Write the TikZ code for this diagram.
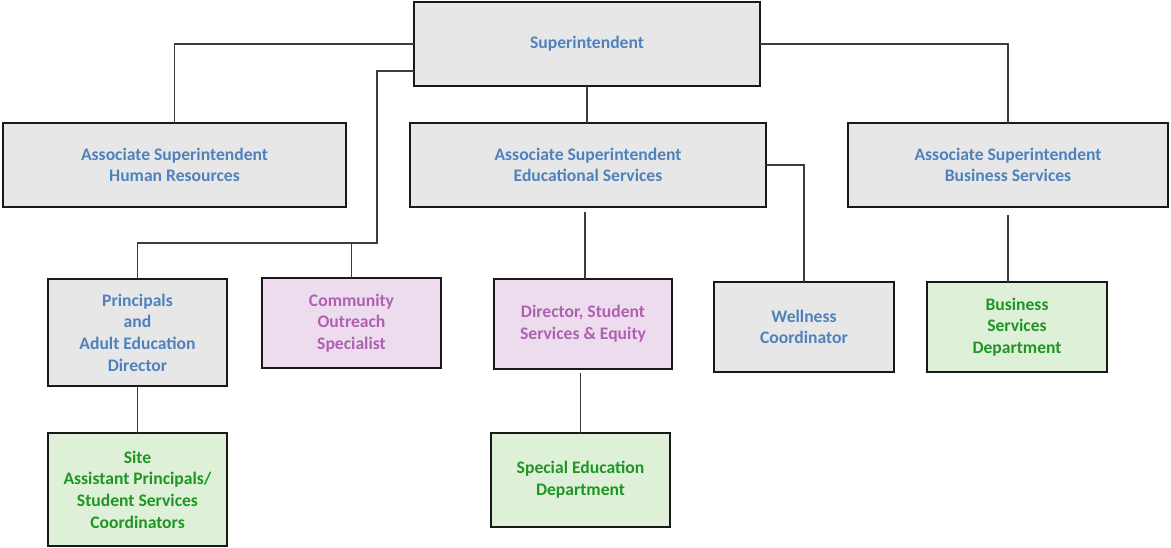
\documentclass[tikz,border=0pt]{standalone}
\usepackage{fontspec}
\setmainfont{Carlito}
\definecolor{txtblue}{RGB}{79,129,189}
\definecolor{txtpurple}{RGB}{176,96,176}
\definecolor{txtgreen}{RGB}{30,150,36}
\definecolor{fillgrey}{RGB}{231,231,231}
\definecolor{fillpink}{RGB}{237,220,238}
\definecolor{fillgreen}{RGB}{223,240,216}
\definecolor{linkgrey}{RGB}{60,60,60}
\begin{document}
\begin{tikzpicture}[x=0.75pt,y=-0.75pt,
  % box given by its corners (left, top, right, bottom) in px
  pbox/.style n args={4}{minimum width={(#3-#1)*0.75pt}, minimum height={(#4-#2)*0.75pt},
    at={({(#1+#3)/2},{(#2+#4)/2})}},
  box/.style={draw=black!90, line width=1.3pt, inner sep=0pt, outer sep=0pt, align=center,
    font=\fontsize{13.2}{16.3}\selectfont\bfseries},
  greybox/.style={box, fill=fillgrey, text=txtblue},
  pinkbox/.style={box, fill=fillpink, text=txtpurple},
  greenbox/.style={box, fill=fillgreen, text=txtgreen},
  link/.style={draw=linkgrey, line width=0.9pt},
]
\useasboundingbox (0,0) rectangle (1171,547);

% top level
\node (sup) [greybox, pbox={414}{2}{760}{86}] {Superintendent};

% associate superintendents
\node (hr)  [greybox, pbox={3}{123}{346}{207}] {Associate Superintendent\\Human Resources};
\node (ed)  [greybox, pbox={410}{123}{766}{207}] {Associate Superintendent\\Educational Services};
\node (biz) [greybox, pbox={848}{123}{1168}{207}] {Associate Superintendent\\Business Services};

% third row
\node (prin) [greybox, pbox={48}{279}{227}{386}] {Principals\\and\\Adult Education\\Director};
\node (com)  [pinkbox, pbox={262}{278}{441}{368}] {Community\\Outreach\\Specialist};
\node (dir)  [pinkbox, pbox={494}{279}{672}{369}] {Director, Student\\Services \& Equity};
\node (well) [greybox, pbox={714}{282}{894}{372}] {Wellness\\Coordinator};
\node (bizd) [greenbox, pbox={927}{282}{1107}{372}] {Business\\Services\\Department};

% bottom row
\node (site) [greenbox, pbox={48}{433}{227}{546}] {Site\\Assistant Principals/\\Student Services\\Coordinators};
\node (sped) [greenbox, pbox={491}{433}{670}{527}] {Special Education\\Department};

% routing points of the side branch
\coordinate (j0) at (377,71);
\coordinate (j1) at (377,243);

% connectors
\draw[link] (sup.west) -| (hr.north);
\draw[link] (sup.east) -| (biz.north);
\draw[link] (sup.south) -- (sup.south |- ed.north);
\draw[link] (sup.west |- j0) -- (j0) -- (j1) -| (prin.north);
\draw[link] (com.north |- j1) -- (com.north);
\draw[link] (ed.east) -| (well.north);
\draw[link, shorten <=4pt] ([xshift=1.5pt]dir.north |- ed.south) -- ([xshift=1.5pt]dir.north);
\draw[link, shorten <=6pt] (biz.south) -- (biz.south |- bizd.north);
\draw[link] (prin.south) -- (prin.south |- site.north);
\draw[link, shorten <=3pt] (sped.north |- dir.south) -- (sped.north);
\end{tikzpicture}
\end{document}
